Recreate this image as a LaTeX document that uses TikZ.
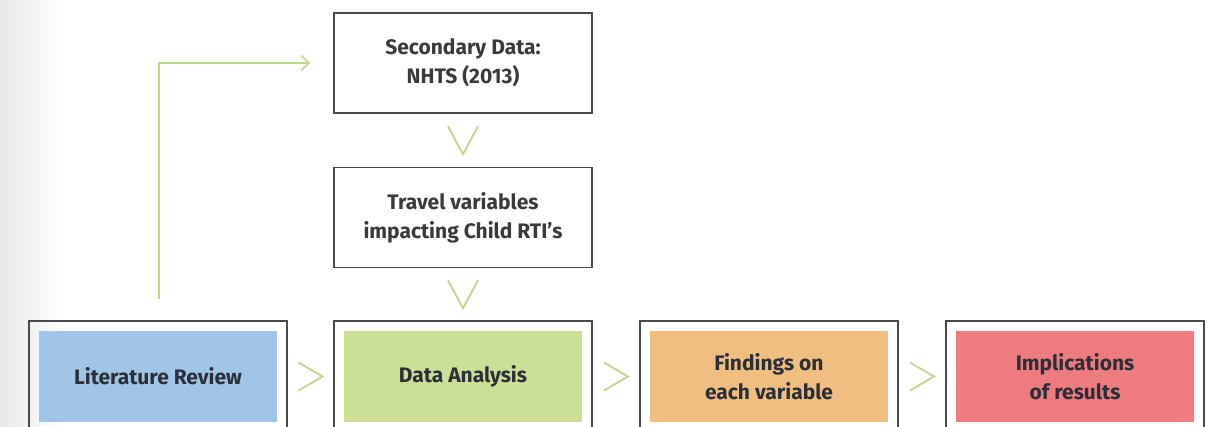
\documentclass[tikz,border=0pt]{standalone}
\usepackage{fontspec}
\setmainfont{Fira Sans}
\usetikzlibrary{arrows.meta,calc}
\definecolor{frame}{HTML}{4A4A4A}
\definecolor{ink}{HTML}{3A3A3A}
\definecolor{darkink}{HTML}{2B2F38}
\definecolor{leaf}{HTML}{BCD88A}
\definecolor{fillblue}{HTML}{A1C5E6}
\definecolor{fillgreen}{HTML}{CCDF96}
\definecolor{fillorange}{HTML}{F0BE80}
\definecolor{fillred}{HTML}{EE7B80}
\tikzset{
  textbox/.style={draw=frame, line width=1.6pt, minimum width=258pt, minimum height=100pt,
    align=center, text=ink, font=\fontsize{21}{29}\selectfont\bfseries, inner sep=0pt},
  outerbox/.style={draw=frame, line width=1.6pt, minimum width=258pt, minimum height=111pt, inner sep=0pt},
  innerbox/.style={minimum width=238pt, minimum height=91pt, align=center, text=darkink,
    font=\fontsize{21}{29}\selectfont\bfseries, inner sep=0pt},
  chev/.style={draw=leaf, line width=1.8pt, line join=miter},
  feed/.style={draw=leaf, line width=1.8pt, -{Straight Barb[length=8pt,width=15pt,line width=1.6pt]}}
}
\begin{document}
\begin{tikzpicture}[x=1pt,y=-1pt]
\useasboundingbox (0,0) rectangle (1214,426);
\clip (0,0) rectangle (1214,426);
% soft grey band along the left edge
\shade[left color=black!9, right color=white] (0,0) rectangle (65,426);

% upper column
\node[textbox] (sec) at (463,63) {Secondary Data:\\NHTS (2013)};
\node[textbox] (trav) at (463,217.5) {Travel variables\\impacting Child RTI's};

% lower row: framed coloured stages
\node[outerbox] (litO) at (158,376.5) {};
\node[innerbox, fill=fillblue] (lit) at (litO.center) {Literature Review};
\node[outerbox] (datO) at (463,376.5) {};
\node[innerbox, fill=fillgreen] (dat) at (datO.center) {Data Analysis};
\node[outerbox] (finO) at (769,376.5) {};
\node[innerbox, fill=fillorange] (fin) at (finO.center) {Findings on\\each variable};
\node[outerbox] (impO) at (1075,376.5) {};
\node[innerbox, fill=fillred] (imp) at (impO.center) {Implications\\of results};

% downward chevrons
\foreach \a/\b in {sec/trav, trav/datO}{
  \coordinate (m) at ($(\a.south)!0.5!(\b.north)$);
  \draw[chev] ($(m)+(-15,-14)$) -- ($(m)+(0,14)$) -- ($(m)+(15,-14)$);
}
% rightward chevrons
\foreach \a/\b in {litO/datO, datO/finO, finO/impO}{
  \coordinate (m) at ($(\a.east)!0.5!(\b.west)$);
  \draw[chev] ($(m)+(-12,-14)$) -- ($(m)+(12,0)$) -- ($(m)+(-12,14)$);
}

% feedback line from the literature review to the secondary data
\draw[feed, shorten >=23pt] ($(litO.north)+(1,-21)$) |- (sec.west);
\end{tikzpicture}
\end{document}
